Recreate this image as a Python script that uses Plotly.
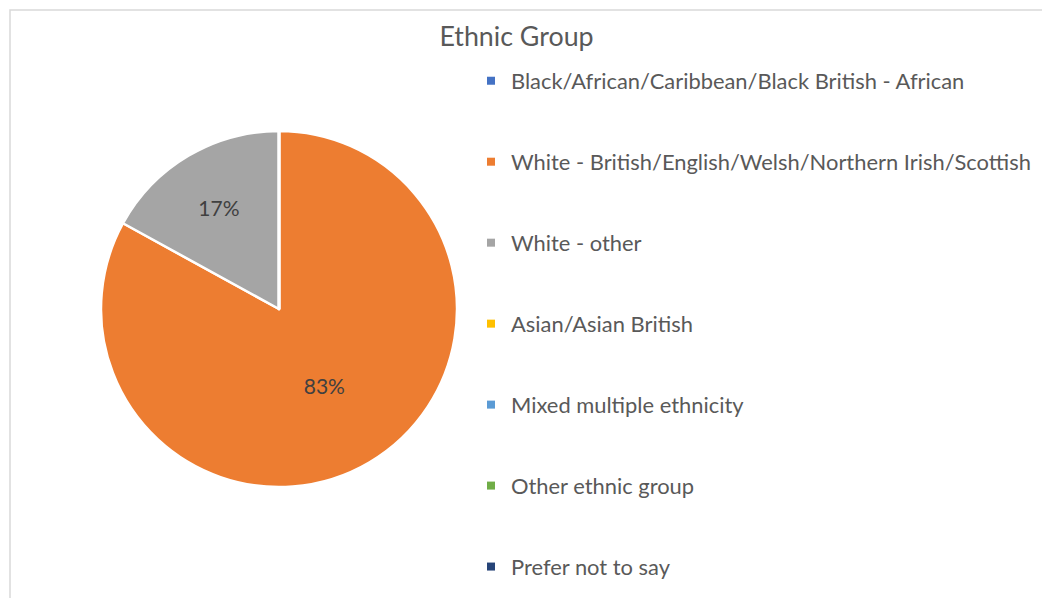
import plotly.graph_objects as go

# Survey responses by ethnic group (percent of respondents)
categories = [
    "Black/African/Caribbean/Black British - African",
    "White - British/English/Welsh/Northern Irish/Scottish",
    "White - other",
    "Asian/Asian British",
    "Mixed multiple ethnicity",
    "Other ethnic group",
    "Prefer not to say",
]
values = [0, 83, 17, 0, 0, 0, 0]
colors = ["#4472C4", "#ED7D31", "#A5A5A5", "#FFC000", "#5B9BD5", "#70AD47", "#264478"]

FONT = "Lato"
TEXT_GREY = "#595959"

fig = go.Figure()

# Only label slices that actually have a share
templates = ["%{percent:.0%}" if v > 0 else "" for v in values]

fig.add_trace(go.Pie(
    labels=categories,
    values=values,
    sort=False,
    direction="clockwise",
    rotation=0,
    marker=dict(colors=colors, line=dict(color="white", width=2.5)),
    texttemplate=templates,
    textposition="inside",
    insidetextorientation="horizontal",
    textfont=dict(family=FONT, size=21, color="#404040"),
    showlegend=False,
    hoverinfo="label+percent",
    domain=dict(x=[101 / 1042, 457 / 1042], y=[1 - 487 / 598, 1 - 131 / 598]),
))

# Legend entries, one group each so they can be spaced apart
for i, (name, col) in enumerate(zip(categories, colors)):
    fig.add_trace(go.Scatter(
        x=[None], y=[None], mode="markers", name=name,
        marker=dict(symbol="square", size=8, color=col),
        legendgroup=f"g{i}", showlegend=True, hoverinfo="skip",
    ))

fig.update_layout(
    width=1042, height=598,
    margin=dict(l=0, r=0, t=0, b=0, autoexpand=False),
    paper_bgcolor="white", plot_bgcolor="white",
    title=dict(text="Ethnic Group", x=516.5 / 1042, xanchor="center",
               y=1 - 37 / 598, yanchor="middle",
               font=dict(family=FONT, size=26.8, color=TEXT_GREY)),
    xaxis=dict(visible=False), yaxis=dict(visible=False),
    legend=dict(
        x=471 / 1042, xanchor="left", y=1 - 60 / 598, yanchor="top",
        font=dict(family=FONT, size=21.9, color=TEXT_GREY),
        traceorder="grouped", tracegroupgap=49.5,
        bgcolor="rgba(0,0,0,0)",
    ),
    shapes=[dict(type="rect", xref="paper", yref="paper",
                 x0=10 / 1042, x1=1.05, y0=-0.05, y1=1 - 10 / 598,
                 line=dict(color="#D9D9D9", width=1.5), layer="below")],
)

fig.write_html("out.html")
